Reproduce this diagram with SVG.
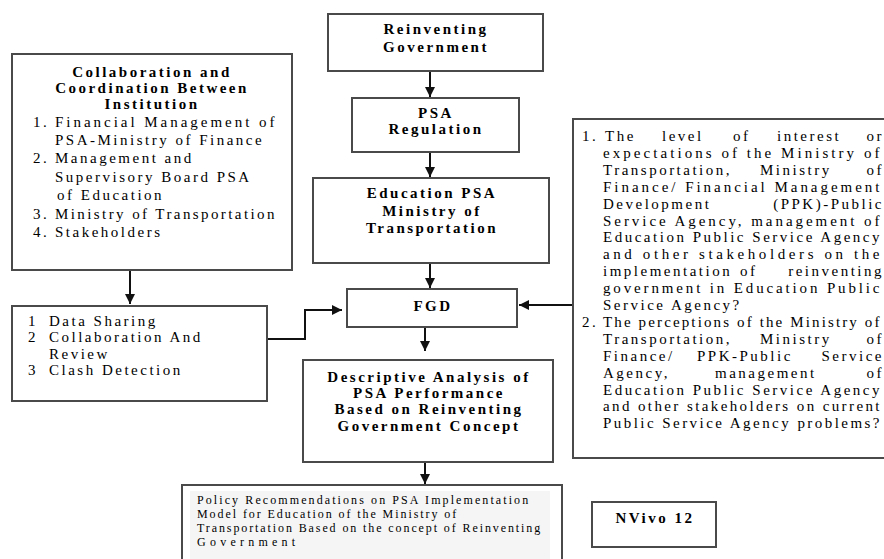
<svg xmlns="http://www.w3.org/2000/svg" width="884" height="559" viewBox="0 0 884 559">
<style>
.box{fill:#fff;stroke:#4a4a4a;stroke-width:2}
.t{font-family:"Liberation Serif",serif;font-size:15px;letter-spacing:2.5px;fill:#000}
.b{font-weight:bold}
.c{text-anchor:middle}
.e{text-anchor:end}
.s{font-size:12px;letter-spacing:1.8px}
.con{fill:none;stroke:#111;stroke-width:2}
</style>
<defs>
<marker id="ah" viewBox="0 0 10 10" refX="10" refY="5" markerWidth="10" markerHeight="10" markerUnits="userSpaceOnUse" orient="auto">
<path d="M0,0 L10,5 L0,10 z" fill="#111"/>
</marker>
</defs>
<rect width="884" height="559" fill="#fff"/>

<g id="connectors">
<path class="con" d="M430,71 L430,97" marker-end="url(#ah)"/>
<path class="con" d="M430,152 L430,177" marker-end="url(#ah)"/>
<path class="con" d="M430,263 L430,288" marker-end="url(#ah)"/>
<path class="con" d="M425,327 L425,351" marker-end="url(#ah)"/>
<path class="con" d="M425,462 L425,484" marker-end="url(#ah)"/>
<path class="con" d="M130,270 L130,304" marker-end="url(#ah)"/>
<path class="con" d="M267,339 L305,339 L305,310 L342,310" marker-end="url(#ah)"/>
<path class="con" d="M573,305 L519,305" marker-end="url(#ah)"/>
</g>

<g id="reinventing">
<rect class="box" x="328" y="14" width="215" height="57"/>
<text class="t b c" x="436" y="34">Reinventing</text>
<text class="t b c" x="436" y="52">Government</text>
</g>

<g id="psa-regulation">
<rect class="box" x="352" y="98" width="167" height="54"/>
<text class="t b c" x="436" y="118">PSA</text>
<text class="t b c" x="436" y="134">Regulation</text>
</g>

<g id="education-psa">
<rect class="box" x="313" y="178" width="236" height="85"/>
<text class="t b c" x="432" y="198">Education PSA</text>
<text class="t b c" x="432" y="216">Ministry of</text>
<text class="t b c" x="432" y="233">Transportation</text>
</g>

<g id="fgd">
<rect class="box" x="347" y="289" width="170" height="38"/>
<text class="t b c" x="433" y="311">FGD</text>
</g>

<g id="descriptive">
<rect class="box" x="303" y="360" width="250" height="102"/>
<text class="t b c" x="429" y="382">Descriptive Analysis of</text>
<text class="t b c" x="429" y="398">PSA Performance</text>
<text class="t b c" x="429" y="414">Based on Reinventing</text>
<text class="t b c" x="429" y="431">Government Concept</text>
</g>

<g id="policy">
<rect class="box" x="182" y="485" width="380" height="90"/>
<rect x="190" y="491" width="360" height="68" fill="#f5f5f5"/>
<text class="t s" x="197" y="504" textLength="333" lengthAdjust="spacing">Policy Recommendations on PSA Implementation</text>
<text class="t s" x="197" y="518" textLength="261" lengthAdjust="spacing">Model for Education of the Ministry of</text>
<text class="t s" x="197" y="532" textLength="345" lengthAdjust="spacing">Transportation Based on the concept of Reinventing</text>
<text class="t s" x="197" y="546" textLength="100" lengthAdjust="spacing">Government</text>
</g>

<g id="nvivo">
<rect class="box" x="592" y="502" width="124" height="45"/>
<text class="t b c" x="655" y="523">NVivo 12</text>
</g>

<g id="collaboration">
<rect class="box" x="12" y="54" width="280" height="216"/>
<text class="t b c" x="152" y="77">Collaboration and</text>
<text class="t b c" x="152" y="93">Coordination Between</text>
<text class="t b c" x="152" y="109">Institution</text>
<text class="t" x="33" y="127">1.</text>
<text class="t" x="55" y="127" textLength="222" lengthAdjust="spacing">Financial Management of</text>
<text class="t" x="55" y="145">PSA-Ministry of Finance</text>
<text class="t" x="33" y="163">2.</text>
<text class="t" x="55" y="163">Management and</text>
<text class="t" x="55" y="182">Supervisory Board PSA</text>
<text class="t" x="57" y="200">of Education</text>
<text class="t" x="33" y="219">3.</text>
<text class="t" x="55" y="219" textLength="222" lengthAdjust="spacing">Ministry of Transportation</text>
<text class="t" x="33" y="237">4.</text>
<text class="t" x="55" y="237">Stakeholders</text>
</g>

<g id="data-sharing">
<rect class="box" x="12" y="306" width="255" height="95"/>
<text class="t" x="28" y="326">1</text>
<text class="t" x="49" y="326">Data Sharing</text>
<text class="t" x="28" y="342">2</text>
<text class="t" x="49" y="342">Collaboration And</text>
<text class="t" x="49" y="359">Review</text>
<text class="t" x="28" y="375">3</text>
<text class="t" x="49" y="375">Clash Detection</text>
</g>

<g id="questions">
<rect class="box" x="573" y="119" width="320" height="339"/>
<text class="t" x="582" y="141">1.</text>
<text class="t" x="605" y="141">The</text>
<text class="t" x="662" y="141">level</text>
<text class="t" x="733" y="141">of</text>
<text class="t" x="777" y="141">interest</text>
<text class="t e" x="884" y="141">or</text>
<text class="t" x="603" y="158" textLength="279" lengthAdjust="spacing">expectations of the Ministry of</text>
<text class="t" x="603" y="175">Transportation,</text>
<text class="t" x="760" y="175">Ministry</text>
<text class="t e" x="884" y="175">of</text>
<text class="t" x="603" y="192" textLength="279" lengthAdjust="spacing">Finance/ Financial Management</text>
<text class="t" x="603" y="209">Development</text>
<text class="t e" x="884" y="209">(PPK)-Public</text>
<text class="t" x="603" y="226" textLength="279" lengthAdjust="spacing">Service Agency, management of</text>
<text class="t" x="603" y="242" textLength="279" lengthAdjust="spacing">Education Public Service Agency</text>
<text class="t" x="603" y="259" textLength="279" lengthAdjust="spacing">and other stakeholders on the</text>
<text class="t" x="603" y="276">implementation</text>
<text class="t" x="740" y="276">of</text>
<text class="t e" x="884" y="276">reinventing</text>
<text class="t" x="603" y="293" textLength="279" lengthAdjust="spacing">government in Education Public</text>
<text class="t" x="603" y="310">Service Agency?</text>
<text class="t" x="582" y="327">2.</text>
<text class="t" x="603" y="327" textLength="279" lengthAdjust="spacing">The perceptions of the Ministry of</text>
<text class="t" x="603" y="344">Transportation,</text>
<text class="t" x="760" y="344">Ministry</text>
<text class="t e" x="884" y="344">of</text>
<text class="t" x="603" y="361">Finance/</text>
<text class="t" x="697" y="361">PPK-Public</text>
<text class="t e" x="884" y="361">Service</text>
<text class="t" x="603" y="378">Agency,</text>
<text class="t" x="715" y="378">management</text>
<text class="t e" x="884" y="378">of</text>
<text class="t" x="603" y="395" textLength="279" lengthAdjust="spacing">Education Public Service Agency</text>
<text class="t" x="603" y="411" textLength="279" lengthAdjust="spacing">and other stakeholders on current</text>
<text class="t" x="603" y="428" textLength="279" lengthAdjust="spacing">Public Service Agency problems?</text>
</g>
</svg>
